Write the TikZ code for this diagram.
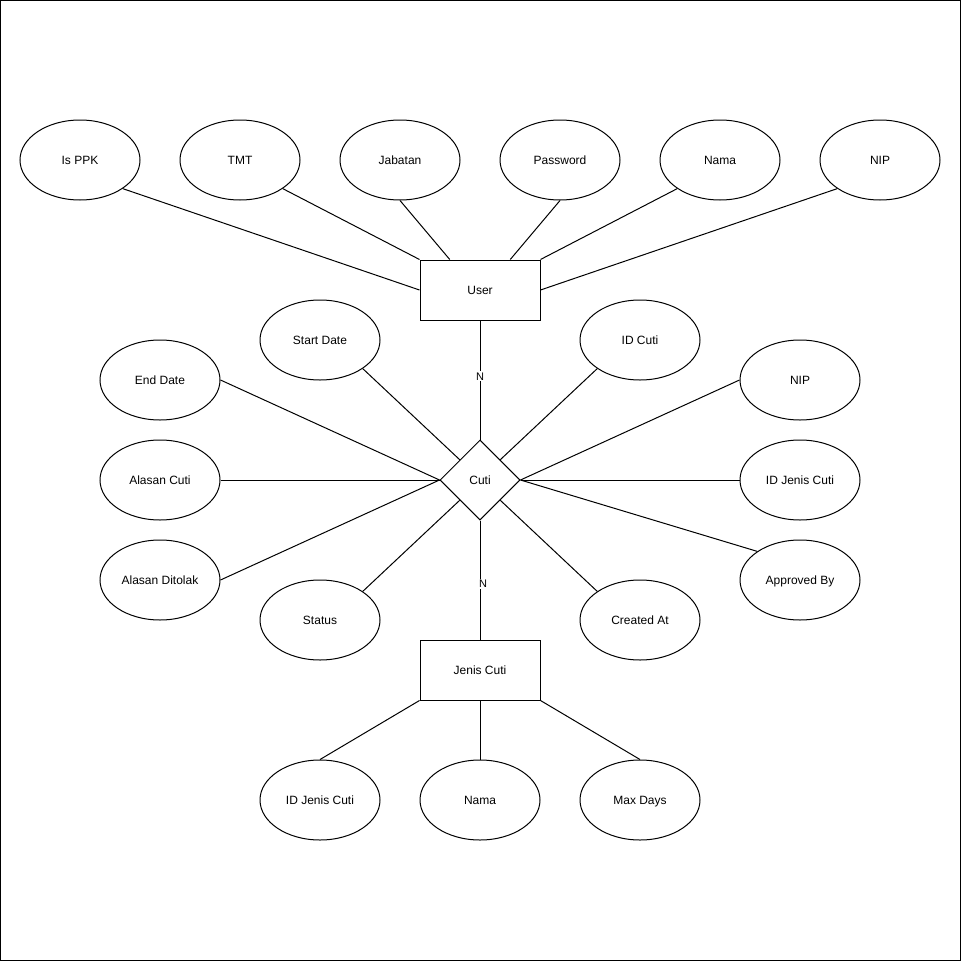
\documentclass[tikz,border=0pt]{standalone}
\usepackage{fontspec}
\setmainfont{Liberation Sans}
\usetikzlibrary{shapes.geometric,calc}
\begin{document}
\begin{tikzpicture}[x=1pt,y=-1pt,line width=1pt,
  txt/.style={font=\fontsize{12}{14}\selectfont,text height=9.6pt,text depth=1.4pt},
  attr/.style={draw,ellipse,minimum width=120pt,minimum height=80pt,inner sep=0pt,txt},
  entity/.style={draw,rectangle,minimum width=120pt,minimum height=60pt,inner sep=0pt,txt},
  rel/.style={draw,diamond,minimum width=80pt,minimum height=80pt,inner sep=0pt,txt},
  card/.style={fill=white,inner sep=1pt,font=\fontsize{11}{13}\selectfont,text height=8pt,text depth=0pt}]
\useasboundingbox (0,0) rectangle (961,961);
\draw (0.5,0.5) rectangle (960.5,960.5);

% entities and relationship
\node[entity] (user) at (480,290) {User};
\node[rel] (cuti) at (480,480) {Cuti};
\node[entity] (jenis) at (480,670) {Jenis Cuti};

% user attributes
\node[attr] (isppk) at (80,160) {Is PPK};
\node[attr] (tmt) at (240,160) {TMT};
\node[attr] (jabatan) at (400,160) {Jabatan};
\node[attr] (password) at (560,160) {Password};
\node[attr] (unama) at (720,160) {Nama};
\node[attr] (unip) at (880,160) {NIP};

% cuti attributes
\node[attr] (start) at (320,340) {Start Date};
\node[attr] (idcuti) at (640,340) {ID Cuti};
\node[attr] (end) at (160,380) {End Date};
\node[attr] (cnip) at (800,380) {NIP};
\node[attr] (alasan) at (160,480) {Alasan Cuti};
\node[attr] (cidjenis) at (800,480) {ID Jenis Cuti};
\node[attr] (ditolak) at (160,580) {Alasan Ditolak};
\node[attr] (approved) at (800,580) {Approved By};
\node[attr] (status) at (320,620) {Status};
\node[attr] (created) at (640,620) {Created At};

% jenis cuti attributes
\node[attr] (jid) at (320,800) {ID Jenis Cuti};
\node[attr] (jnama) at (480,800) {Nama};
\node[attr] (maxdays) at (640,800) {Max Days};

% anchor points on user and cuti
\coordinate (ujab) at ($(user.north west)!0.25!(user.north east)$);
\coordinate (upass) at ($(user.north west)!0.75!(user.north east)$);
\coordinate (cnw) at ($(cuti.north)!0.5!(cuti.west)$);
\coordinate (cne) at ($(cuti.north)!0.5!(cuti.east)$);
\coordinate (csw) at ($(cuti.south)!0.5!(cuti.west)$);
\coordinate (cse) at ($(cuti.south)!0.5!(cuti.east)$);

% user connectors
\draw (isppk.south east) -- (user.west);
\draw (tmt.south east) -- (user.north west);
\draw (jabatan.south) -- (ujab);
\draw (password.south) -- (upass);
\draw (unama.south west) -- (user.north east);
\draw (unip.south west) -- (user.east);

% cuti connectors
\draw (start.south east) -- (cnw);
\draw (idcuti.south west) -- (cne);
\draw (end.east) -- (cuti.west);
\draw (cnip.west) -- (cuti.east);
\draw (alasan.east) -- (cuti.west);
\draw (cidjenis.west) -- (cuti.east);
\draw (ditolak.east) -- (cuti.west);
\draw (approved.north west) -- (cuti.east);
\draw (status.north east) -- (csw);
\draw (created.north west) -- (cse);

% relationships
\draw (user.south) -- (cuti.north) node[card,pos=0.467] {N};
\draw (cuti.south) -- (jenis.north) node[card,pos=0.533,xshift=3pt] {N};

% jenis cuti connectors
\draw (jenis.south west) -- (jid.north);
\draw (jenis.south) -- (jnama.north);
\draw (jenis.south east) -- (maxdays.north);
\end{tikzpicture}
\end{document}
